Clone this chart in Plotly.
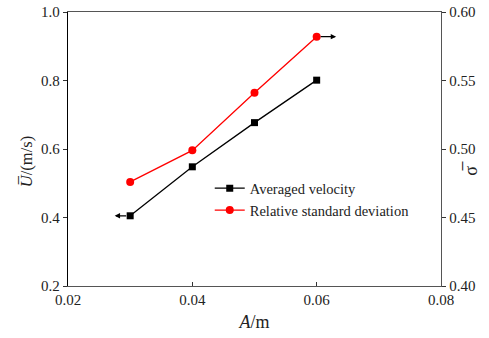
import plotly.graph_objects as go

# Amplitude A (m)
amplitude = [0.03, 0.04, 0.05, 0.06]
# Averaged velocity U (m/s), left axis
avg_velocity = [0.405, 0.548, 0.677, 0.801]
# Relative standard deviation sigma, right axis
rel_std = [0.476, 0.499, 0.541, 0.582]

x_ticks = [0.02, 0.04, 0.06, 0.08]
y_ticks = [0.2, 0.4, 0.6, 0.8, 1.0]
y2_ticks = [0.40, 0.45, 0.50, 0.55, 0.60]

FONT = "'Liberation Serif', 'Times New Roman', serif"

fig = go.Figure()
fig.add_trace(go.Scatter(
    x=amplitude, y=avg_velocity, name="Averaged velocity",
    mode="lines+markers",
    line=dict(color="black", width=1.3),
    marker=dict(symbol="square", size=7, color="black"),
))
fig.add_trace(go.Scatter(
    x=amplitude, y=rel_std, name="Relative standard deviation",
    mode="lines+markers", yaxis="y2",
    line=dict(color="#ff0000", width=1.3),
    marker=dict(symbol="circle", size=8, color="#ff0000"),
))

# arrows showing which axis each series belongs to (head at the far end)
fig.add_annotation(x=amplitude[0], y=avg_velocity[0], xref="x", yref="y",
                   ax=-17, ay=0, axref="pixel", ayref="pixel",
                   showarrow=True, arrowside="start", startarrowhead=2,
                   startarrowsize=0.9, arrowwidth=1.2,
                   arrowcolor="black", text="", standoff=4, startstandoff=0)
fig.add_annotation(x=amplitude[-1], y=rel_std[-1], xref="x", yref="y2",
                   ax=21, ay=0, axref="pixel", ayref="pixel",
                   showarrow=True, arrowside="start", startarrowhead=2,
                   startarrowsize=0.9, arrowwidth=1.2,
                   arrowcolor="black", text="", standoff=4, startstandoff=0)

# vertical axis titles
fig.add_annotation(x=-0.113, y=0.455, xref="paper", yref="paper",
                   text="<i>U\u0305</i>/(m/s)", textangle=-90, showarrow=False,
                   xanchor="center", yanchor="middle", font=dict(size=16.5))
fig.add_annotation(x=1.082, y=0.43, xref="paper", yref="paper",
                   text="\u03c3\u0305", textangle=-90, showarrow=False,
                   xanchor="center", yanchor="middle", font=dict(size=18))

fig.update_layout(
    width=489, height=338,
    margin=dict(l=68, r=48, t=12, b=52),
    paper_bgcolor="white", plot_bgcolor="white",
    font=dict(family=FONT, size=15, color="#222"),
    showlegend=True,
    legend=dict(x=0.38, y=0.415, xanchor="left", yanchor="top",
                bgcolor="rgba(0,0,0,0)", font=dict(size=14.5, color="#222"),
                tracegroupgap=0, itemwidth=30),
    xaxis=dict(range=[0.02, 0.08], tickvals=x_ticks,
               ticktext=[f"{v:.2f}" for v in x_ticks],
               showgrid=False, zeroline=False, automargin=False,
               showline=True, linecolor="#555", linewidth=1.3, mirror=True,
               ticks="inside", ticklen=4, tickcolor="#333",
               title=dict(text="<i>A</i>/m", standoff=8)),
    yaxis=dict(range=[0.2, 1.0], tickvals=y_ticks,
               ticktext=[f"{v:.1f}" for v in y_ticks],
               showgrid=False, zeroline=False, automargin=False,
               showline=True, linecolor="black", linewidth=1.3,
               ticks="outside", ticklen=4, tickcolor="#333"),
    yaxis2=dict(range=[0.40, 0.60], tickvals=y2_ticks,
                ticktext=[f"{v:.2f}" for v in y2_ticks],
                overlaying="y", side="right",
                showgrid=False, zeroline=False, automargin=False,
                showline=True, linecolor="#555", linewidth=1.3,
                ticks="outside", ticklen=4, tickcolor="#333"),
)

fig.write_html("out.html")
